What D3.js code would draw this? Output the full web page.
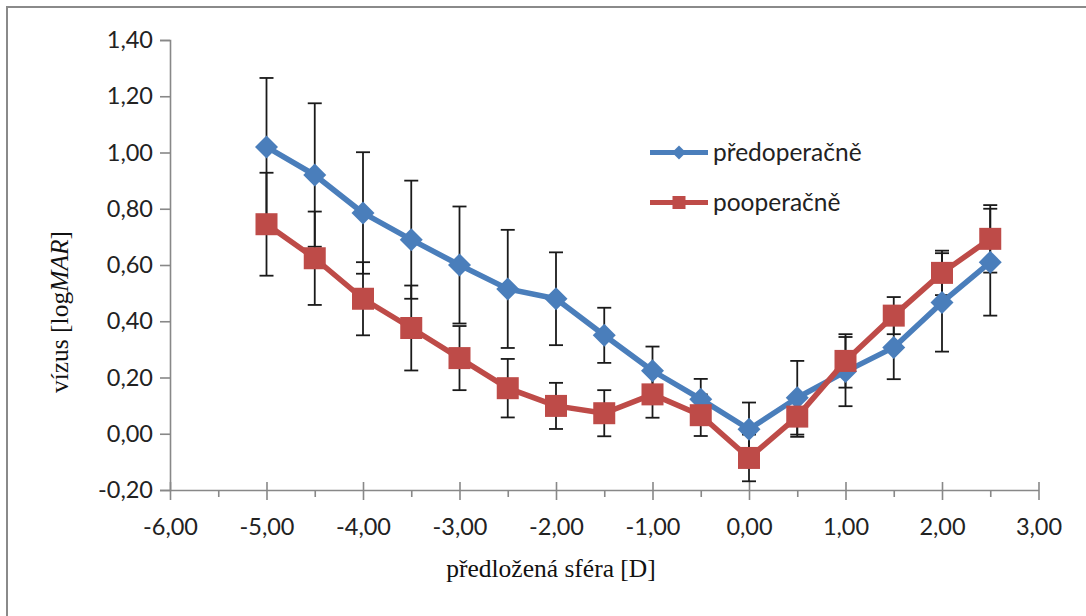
<!DOCTYPE html>
<html>
<head>
<meta charset="utf-8">
<script src="https://cdn.jsdelivr.net/npm/d3@7"></script>
<style>
  html, body { margin: 0; padding: 0; background: #fff; }
  svg { display: block; }
</style>
</head>
<body>
<svg id="chart" width="1086" height="616"></svg>
<script>
// ---- data ----
const sphere = [-5, -4.5, -4, -3.5, -3, -2.5, -2, -1.5, -1, -0.5, 0, 0.5, 1, 1.5, 2, 2.5];
const preop = [1.02, 0.92, 0.785, 0.69, 0.60, 0.515, 0.48, 0.35, 0.224, 0.123, 0.016, 0.128, 0.221, 0.307, 0.467, 0.61];
const preopErr = [0.245, 0.255, 0.216, 0.21, 0.208, 0.21, 0.165, 0.098, 0.086, 0.072, 0.095, 0.131, 0.123, 0.113, 0.175, 0.19];
const postop = [0.745, 0.624, 0.48, 0.376, 0.269, 0.162, 0.099, 0.073, 0.14, 0.066, -0.086, 0.061, 0.259, 0.42, 0.572, 0.693];
const postopErr = [0.183, 0.166, 0.13, 0.151, 0.114, 0.104, 0.082, 0.082, 0.083, 0.074, 0.083, 0.072, 0.095, 0.066, 0.079, 0.12];
const xTicks = [-6, -5, -4, -3, -2, -1, 0, 1, 2, 3];
const xMinorTicks = [-5.5, -4.5, -3.5, -2.5, -1.5, -0.5, 0.5, 1.5, 2.5];
const yTicks = [-0.2, 0, 0.2, 0.4, 0.6, 0.8, 1.0, 1.2, 1.4];
const seriesNames = ["předoperačně", "pooperačně"];
const xTitle = "předložená sféra [D]";

// ---- layout ----
const svg = d3.select("#chart");
const x = d3.scaleLinear().domain([-6, 3]).range([170, 1038.5]);
const y = d3.scaleLinear().domain([-0.2, 1.4]).range([490, 40]);
const fmt = v => (Math.abs(v) < 1e-9 ? 0 : v).toFixed(2).replace(".", ",");
const axisColor = "#888888";
const blue = "#4a7ebb";
const red = "#be4b48";
const tickFont = "Lato, 'Open Sans', sans-serif";
const serif = "'Liberation Serif', 'Times New Roman', serif";

// outer frame
svg.append("rect").attr("x", 7).attr("y", 7).attr("width", 1100).attr("height", 640)
  .attr("fill", "none").attr("stroke", "#8a8a8a").attr("stroke-width", 2);

// y axis
const yAxis = d3.axisLeft(y).tickValues(yTicks).tickFormat(fmt).tickSize(10).tickPadding(7);
const gy = svg.append("g").attr("transform", `translate(${x(-6)},0)`).call(yAxis);
gy.select(".domain").attr("stroke", axisColor).attr("stroke-width", 1.6);
gy.selectAll(".tick line").attr("stroke", axisColor).attr("stroke-width", 1.6);
gy.selectAll(".tick text").attr("font-family", tickFont).attr("font-size", 23.5).attr("fill", "#222");

// x axis (major ticks crossing)
const xAxis = d3.axisBottom(x).tickValues(xTicks).tickFormat(fmt).tickSizeInner(10).tickSizeOuter(0).tickPadding(18);
const gx = svg.append("g").attr("transform", `translate(0,${y(-0.2)})`).call(xAxis);
gx.select(".domain").attr("stroke", axisColor).attr("stroke-width", 1.6);
gx.selectAll(".tick line").attr("stroke", axisColor).attr("stroke-width", 1.6).attr("y1", -8);
gx.selectAll(".tick text").attr("font-family", tickFont).attr("font-size", 23.5).attr("fill", "#222");
// minor ticks
const xMinor = d3.axisBottom(x).tickValues(xMinorTicks).tickFormat("").tickSizeInner(7).tickSizeOuter(0);
const gxm = svg.append("g").attr("transform", `translate(0,${y(-0.2)})`).call(xMinor);
gxm.select(".domain").remove();
gxm.selectAll(".tick line").attr("stroke", axisColor).attr("stroke-width", 1.6);

// axis titles
svg.append("text").attr("x", 551).attr("y", 577).attr("text-anchor", "middle")
  .attr("font-family", serif).attr("font-size", 25.5).attr("fill", "#111").text(xTitle);
const yl = svg.append("text").attr("transform", "translate(68,312) rotate(-90)").attr("text-anchor", "middle")
  .attr("font-family", serif).attr("font-size", 25.5).attr("fill", "#111");
yl.append("tspan").text("vízus [log");
yl.append("tspan").attr("font-style", "italic").text("MAR");
yl.append("tspan").text("]");

// error bars
function errorBars(vals, errs) {
  const g = svg.append("g").attr("stroke", "#1a1a1a").attr("stroke-width", 1.8).attr("fill", "none");
  sphere.forEach((s, i) => {
    const cx = x(s), top = y(vals[i] + errs[i]), bot = y(vals[i] - errs[i]);
    g.append("line").attr("x1", cx).attr("x2", cx).attr("y1", top).attr("y2", bot);
    g.append("line").attr("x1", cx - 7).attr("x2", cx + 7).attr("y1", top).attr("y2", top);
    g.append("line").attr("x1", cx - 7).attr("x2", cx + 7).attr("y1", bot).attr("y2", bot);
  });
}
errorBars(preop, preopErr);
errorBars(postop, postopErr);

const line = d3.line().x((d, i) => x(sphere[i])).y(d => y(d));
const diamond = r => `M0,${-r}L${r},0L0,${r}L${-r},0Z`;

// series 1
svg.append("path").datum(preop).attr("d", line).attr("fill", "none").attr("stroke", blue)
  .attr("stroke-width", 5.5).attr("stroke-linejoin", "round");
svg.append("g").selectAll("path").data(preop).join("path")
  .attr("transform", (d, i) => `translate(${x(sphere[i])},${y(d)})`)
  .attr("d", diamond(11.5)).attr("fill", blue);

// series 2
svg.append("path").datum(postop).attr("d", line).attr("fill", "none").attr("stroke", red)
  .attr("stroke-width", 5.5).attr("stroke-linejoin", "round");
svg.append("g").selectAll("rect").data(postop).join("rect")
  .attr("x", (d, i) => x(sphere[i]) - 11).attr("y", d => y(d) - 11)
  .attr("width", 22).attr("height", 22).attr("fill", red);

// legend
const leg = svg.append("g");
[[blue, 152.5, "d"], [red, 202.5, "s"]].forEach(([c, ly, m], i) => {
  leg.append("line").attr("x1", 650).attr("x2", 708).attr("y1", ly).attr("y2", ly)
    .attr("stroke", c).attr("stroke-width", 5);
  if (m === "d") leg.append("path").attr("transform", `translate(679,${ly})`).attr("d", diamond(7)).attr("fill", c);
  else leg.append("rect").attr("x", 672.5).attr("y", ly - 6.5).attr("width", 13).attr("height", 13).attr("fill", c);
  leg.append("text").attr("x", 713).attr("y", ly).attr("dy", "0.35em")
    .attr("font-family", tickFont).attr("font-size", 24.5).attr("fill", "#222").text(seriesNames[i]);
});
</script>
</body>
</html>
